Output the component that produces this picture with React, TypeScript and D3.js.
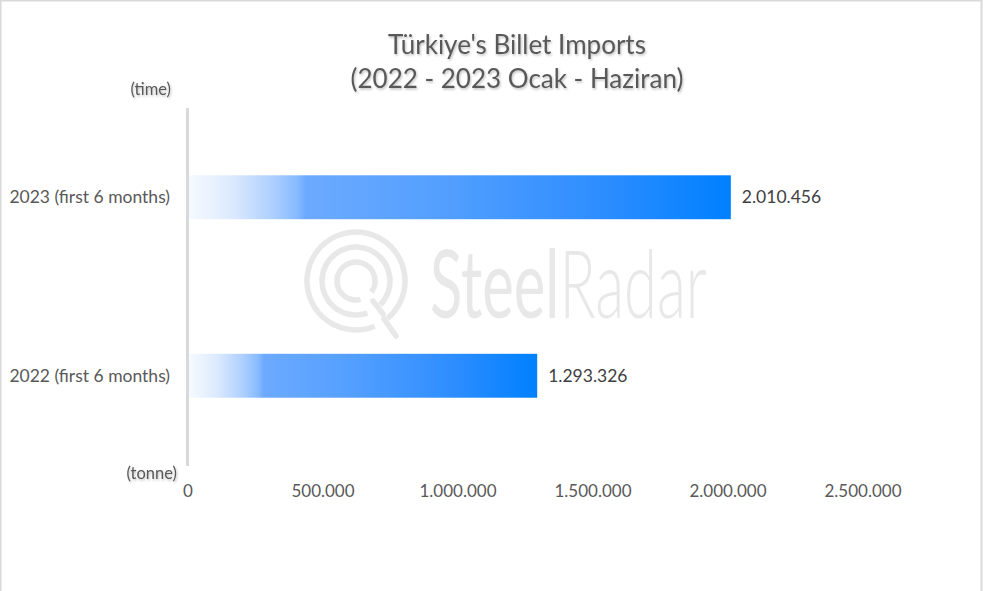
import React from "react";
import * as d3 from "d3";

const categories = ["2023 (first 6 months)", "2022 (first 6 months)"];
const values = [2010456, 1293326];
const tickValues = [0, 500000, 1000000, 1500000, 2000000, 2500000];
const titleLines = ["Türkiye's Billet Imports", "(2022 - 2023 Ocak - Haziran)"];

const W = 983;
const H = 591;
const FONT = "Lato, 'Open Sans', sans-serif";

const fmt = (v: number) => d3.format(",")(v).replace(/,/g, ".");

export default function App() {
  const x = d3.scaleLinear().domain([0, 2500000]).range([188, 863]);
  const y = d3.scaleBand().domain(categories).range([108, 465]).paddingInner(0.754).paddingOuter(0.377);

  // watermark logo arcs
  const cx = 356, cy = 281;
  const arc = d3.arc();
  const rings = [
    { r: 49, s: 2.75, e: 2 * Math.PI + 2.45 },
    { r: 34, s: 2.8, e: 2 * Math.PI + 2.35 },
    { r: 19, s: 2.9, e: 2 * Math.PI + 2.2 },
  ];

  return (
    <svg width={W} height={H} style={{ position: "absolute", left: 0, top: 0, background: "#fff" }}>
      <defs>
        <linearGradient id="barGrad" x1="0" x2="1" y1="0" y2="0">
          <stop offset="0" stopColor="#f6faff" />
          <stop offset="0.08" stopColor="#dceafe" />
          <stop offset="0.16" stopColor="#aacdff" />
          <stop offset="0.2" stopColor="#86baff" />
          <stop offset="0.215" stopColor="#6caaff" />
          <stop offset="0.45" stopColor="#55a0ff" />
          <stop offset="0.75" stopColor="#2f8eff" />
          <stop offset="1" stopColor="#0080ff" />
        </linearGradient>
        <filter id="tshadow" x="-10%" y="-30%" width="120%" height="160%">
          <feDropShadow dx="1" dy="1.5" stdDeviation="1" floodColor="#000" floodOpacity="0.25" />
        </filter>
      </defs>
      <rect x={0.5} y={0.5} width={981} height={H + 10} fill="#fff" stroke="#d9d9d9" strokeWidth={2} />

      {/* watermark */}
      <g fill="none" stroke="#e8e8e8" strokeWidth={5.5} strokeLinecap="round">
        {rings.map((rg, i) => (
          <path
            key={i}
            transform={`translate(${cx},${cy})`}
            d={arc({ innerRadius: rg.r, outerRadius: rg.r, startAngle: rg.s, endAngle: rg.e }) as string}
          />
        ))}
        <line x1={cx + 17} y1={cy + 20} x2={cx + 27} y2={cy + 33} />
        <line x1={cx + 28} y1={cy + 38} x2={cx + 40} y2={cy + 55} />
      </g>
      <text transform="translate(430,318) scale(0.635,1)" fontFamily={FONT} fontSize={94} fill="#e8e8e8">
        <tspan fontWeight={400}>Steel</tspan>
        <tspan fontWeight={300}>Radar</tspan>
      </text>

      {/* title */}
      <g filter="url(#tshadow)">
        {titleLines.map((t, i) => (
          <text key={i} x={517} y={54 + i * 34} textAnchor="middle" fontFamily={FONT} fontSize={26} fill="#595959">
            {t}
          </text>
        ))}
      </g>

      {/* axis line */}
      <line x1={187.5} x2={187.5} y1={108} y2={466} stroke="#d9d9d9" strokeWidth={3} />

      {/* bars */}
      {categories.map((c, i) => (
        <g key={c}>
          <rect x={x(0) + 1} y={y(c)} width={x(values[i]) - x(0) - 1} height={y.bandwidth()} fill="url(#barGrad)" />
          <text x={x(values[i]) + 11} y={(y(c) as number) + y.bandwidth() / 2 + 6} fontFamily={FONT} fontSize={17.5} fill="#404040">
            {fmt(values[i])}
          </text>
          <text x={170} y={(y(c) as number) + y.bandwidth() / 2 + 6} textAnchor="end" fontFamily={FONT} fontSize={17.5} fill="#595959">
            {c}
          </text>
        </g>
      ))}

      {/* x tick labels */}
      {tickValues.map((t) => (
        <text key={t} x={x(t)} y={497} textAnchor="middle" fontFamily={FONT} fontSize={17} fill="#595959">
          {fmt(t)}
        </text>
      ))}

      <text x={171} y={95} textAnchor="end" fontFamily={FONT} fontSize={16.5} fill="#595959" filter="url(#tshadow)">
        (time)
      </text>
      <text x={177} y={479} textAnchor="end" fontFamily={FONT} fontSize={16.5} fill="#595959" filter="url(#tshadow)">
        (tonne)
      </text>
    </svg>
  );
}
